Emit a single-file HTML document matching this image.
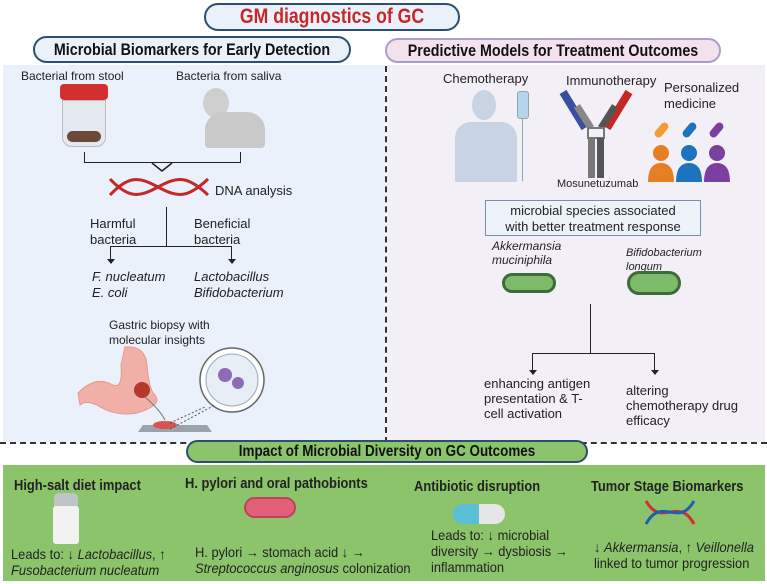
<!DOCTYPE html>
<html><head><meta charset="utf-8"><style>
*{margin:0;padding:0;box-sizing:border-box}
body{width:767px;height:584px;background:#fff;position:relative;overflow:hidden;font-family:"Liberation Sans",sans-serif;color:#222}
.a{position:absolute;white-space:nowrap}
.pill{position:absolute;border:2px solid #2d4e6e;border-radius:16px;font-weight:bold;color:#111;white-space:nowrap}
.pill span{position:absolute;left:50%;top:50%;transform:translate(-50%,-50%) scaleX(.84)}
.t{font-size:12px;line-height:15px}
.h{font-size:15px;font-weight:bold;transform:scaleX(.86);transform-origin:left}
.b{font-size:14px;line-height:16px;transform:scaleX(.92);transform-origin:left}
i{font-style:italic}
</style></head><body>
<div class="a" style="left:3px;top:65px;width:382px;height:377px;background:#eaf1fb"></div>
<div class="a" style="left:387px;top:65px;width:378px;height:377px;background:#f3eff6"></div>
<div class="a" style="left:385px;top:66px;height:377px;border-left:2px dashed #333"></div>
<div class="a" style="left:0;top:442px;width:767px;border-top:2px dashed #333"></div>
<div class="a" style="left:3px;top:465px;width:762px;height:116px;background:#8cc46c"></div>

<div class="pill" style="left:204px;top:3px;width:256px;height:28px;background:#eaf1fb;color:#c62828;font-size:21px"><span>GM diagnostics of GC</span></div>
<div class="pill" style="left:33px;top:36px;width:318px;height:27px;background:#eaf1fb;font-size:17px"><span>Microbial Biomarkers for Early Detection</span></div>
<div class="pill" style="left:385px;top:38px;width:336px;height:25px;background:#f3e2ee;border-color:#a9a0c8;font-size:17px"><span>Predictive Models for Treatment Outcomes</span></div>
<div class="pill" style="left:186px;top:440px;width:402px;height:23px;background:#8cc46c;font-size:16px"><span>Impact of Microbial Diversity on GC Outcomes</span></div>

<!-- left panel -->
<div class="a t" style="left:21px;top:69px">Bacterial from stool</div>
<div class="a t" style="left:176px;top:69px">Bacteria from saliva</div>
<div class="a" style="left:60px;top:84px;width:48px;height:16px;background:#d32f2f;border-radius:4px"></div>
<div class="a" style="left:62px;top:100px;width:44px;height:47px;background:#e4e9ef;border:1px solid #bbb;border-radius:0 0 10px 10px"></div>
<div class="a" style="left:67px;top:131px;width:34px;height:11px;background:#6b4a3a;border-radius:7px"></div>
<div class="a" style="left:203px;top:88px;width:26px;height:30px;background:#cfcfcf;border-radius:50%"></div>
<div class="a" style="left:205px;top:112px;width:60px;height:36px;background:#c9c9c9;border-radius:18px 18px 4px 4px"></div>
<div class="a" style="left:84px;top:152px;width:157px;height:11px;border:1.5px solid #222;border-top:none"></div>
<svg class="a" style="left:150px;top:162px" width="24" height="10"><path d="M2 1 L12 9 L22 1" stroke="#222" stroke-width="1.5" fill="#eaf1fb"/></svg>
<svg class="a" style="left:108px;top:176px" width="102" height="22"><path d="M2 3 C20 22,30 22,50 11 S80 0,100 19" stroke="#c62828" stroke-width="3" fill="none"/><path d="M2 19 C20 0,30 0,50 11 S80 22,100 3" stroke="#c62828" stroke-width="3" fill="none"/></svg>
<div class="a t" style="left:215px;top:183px;font-size:13px">DNA analysis</div>
<div class="a" style="left:166px;top:207px;height:40px;border-left:1.5px solid #222"></div>
<div class="a" style="left:110px;top:246px;width:122px;height:14px;border:1.5px solid #222;border-bottom:none"></div>
<div class="a" style="left:107px;top:259px;border:4px solid transparent;border-top:5px solid #222"></div>
<div class="a" style="left:228px;top:259px;border:4px solid transparent;border-top:5px solid #222"></div>
<div class="a t" style="left:90px;top:216px;line-height:16px;font-size:13px">Harmful<br>bacteria</div>
<div class="a t" style="left:194px;top:216px;line-height:16px;font-size:13px">Beneficial<br>bacteria</div>
<div class="a t" style="left:92px;top:269px;line-height:16px;font-size:13px"><i>F. nucleatum<br>E. coli</i></div>
<div class="a t" style="left:194px;top:269px;line-height:16px;font-size:13px"><i>Lactobacillus<br>Bifidobacterium</i></div>
<div class="a t" style="left:109px;top:318px;line-height:15px">Gastric biopsy with<br>molecular insights</div>
<svg class="a" style="left:75px;top:345px" width="200" height="92">
<path d="M50 2 Q70 0 72 20 Q74 45 80 50 Q88 60 62 68 Q40 72 22 60 Q10 55 5 60 L3 48 Q20 30 38 40 Q48 44 46 20 Z" fill="#f0b0a8" stroke="#e39a90"/>
<circle cx="67" cy="45" r="8" fill="#b3392a"/>
<path d="M70 52 Q85 65 90 75" stroke="#777" fill="none"/>
<circle cx="157" cy="35" r="32" fill="#fff" stroke="#666" stroke-width="1.5"/>
<circle cx="157" cy="35" r="26" fill="#e8eef6" stroke="#9ab"/>
<circle cx="150" cy="30" r="7" fill="#8e6bb8"/><circle cx="163" cy="38" r="6" fill="#8e6bb8"/>
<path d="M63 87 L137 87 L132 80 L68 80 Z" fill="#9aa3ad"/>
<ellipse cx="90" cy="80" rx="12" ry="4" fill="#d9534f"/>
<path d="M95 78 L130 62 M95 84 L140 60" stroke="#555" stroke-dasharray="2 2" fill="none"/>
</svg>

<!-- right panel -->
<div class="a t" style="left:443px;top:71px;font-size:13px">Chemotherapy</div>
<div class="a" style="left:472px;top:90px;width:24px;height:30px;background:#c8d3e3;border-radius:50%"></div>
<div class="a" style="left:455px;top:122px;width:62px;height:60px;background:#c8d3e3;border-radius:16px 16px 0 0"></div>
<div class="a" style="left:517px;top:91px;width:12px;height:28px;background:#b8d4ea;border:1px solid #8aa;border-radius:3px"></div>
<div class="a" style="left:522px;top:119px;height:62px;border-left:1px solid #8aa"></div>
<div class="a t" style="left:566px;top:73px;font-size:13px">Immunotherapy</div>
<svg class="a" style="left:555px;top:88px" width="82" height="92">
<path d="M8 4 L30 40" stroke="#3a4fa0" stroke-width="8"/><path d="M22 18 L36 40" stroke="#888" stroke-width="7"/>
<path d="M74 4 L52 40" stroke="#c62828" stroke-width="8"/><path d="M60 18 L46 40" stroke="#555" stroke-width="7"/>
<rect x="33" y="40" width="16" height="10" fill="none" stroke="#777" stroke-width="2"/>
<rect x="33" y="50" width="7" height="40" fill="#777"/><rect x="42" y="50" width="7" height="40" fill="#555"/>
</svg>
<div class="a t" style="left:557px;top:177px;font-size:11px">Mosunetuzumab</div>
<div class="a t" style="left:664px;top:80px;font-size:13px;line-height:16px">Personalized<br>medicine</div>
<div class="a" style="left:653px;top:126px;width:17px;height:8px;background:#f39c33;border-radius:4px;transform:rotate(-50deg)"></div>
<div class="a" style="left:681px;top:126px;width:17px;height:8px;background:#1e73be;border-radius:4px;transform:rotate(-50deg)"></div>
<div class="a" style="left:708px;top:126px;width:17px;height:8px;background:#7b3fa0;border-radius:4px;transform:rotate(-50deg)"></div>
<svg class="a" style="left:647px;top:144px" width="86" height="38">
<circle cx="14" cy="9" r="8" fill="#e67e22"/><path d="M1 38 Q1 19 14 19 Q27 19 27 38Z" fill="#e67e22"/>
<circle cx="42" cy="9" r="8" fill="#1e73be"/><path d="M29 38 Q29 19 42 19 Q55 19 55 38Z" fill="#1e73be"/>
<circle cx="70" cy="9" r="8" fill="#7b3fa0"/><path d="M57 38 Q57 19 70 19 Q83 19 83 38Z" fill="#7b3fa0"/>
</svg>
<div class="a" style="left:485px;top:200px;width:216px;height:36px;border:1.5px solid #7a8fb0;background:#eef3fa;text-align:center;font-size:13px;line-height:16px;padding-top:2px">microbial species associated<br>with better treatment response</div>
<div class="a t" style="left:492px;top:239px;line-height:14px;font-size:12px"><i>Akkermansia<br>muciniphila</i></div>
<div class="a t" style="left:626px;top:246px;line-height:14px;font-size:11px"><i>Bifidobacterium<br>longum</i></div>
<div class="a" style="left:502px;top:273px;width:54px;height:20px;background:#7dbb68;border:3px solid #3d6b3a;border-radius:10px"></div>
<div class="a" style="left:627px;top:271px;width:54px;height:24px;background:#7dbb68;border:3px solid #3d6b3a;border-radius:12px"></div>
<div class="a" style="left:590px;top:304px;height:50px;border-left:1.5px solid #222"></div>
<div class="a" style="left:532px;top:353px;width:123px;height:18px;border:1.5px solid #222;border-bottom:none"></div>
<div class="a" style="left:529px;top:370px;border:4px solid transparent;border-top:5px solid #222"></div>
<div class="a" style="left:651px;top:370px;border:4px solid transparent;border-top:5px solid #222"></div>
<div class="a t" style="left:484px;top:376px;font-size:13px">enhancing antigen<br>presentation &amp; T-<br>cell activation</div>
<div class="a t" style="left:626px;top:383px;font-size:13px">altering<br>chemotherapy drug<br>efficacy</div>

<!-- bottom -->
<div class="a h" style="left:14px;top:477px">High-salt diet impact</div>
<div class="a" style="left:54px;top:493px;width:24px;height:14px;background:#bfc4c9;border-radius:5px 5px 0 0"></div>
<div class="a" style="left:53px;top:506px;width:26px;height:38px;background:#f2f2f2;border-radius:3px"></div>
<div class="a b" style="left:11px;top:546px">Leads to: ↓ <i>Lactobacillus</i>, ↑<br><i>Fusobacterium nucleatum</i></div>
<div class="a h" style="left:185px;top:475px">H. pylori and oral pathobionts</div>
<div class="a" style="left:246px;top:499px;width:48px;height:17px;background:#e0607a;border-radius:9px;box-shadow:0 0 0 2px #c04060"></div>
<div class="a b" style="left:195px;top:544px">H. pylori → stomach acid ↓ →<br><i>Streptococcus anginosus</i> colonization</div>
<div class="a h" style="left:414px;top:478px">Antibiotic disruption</div>
<div class="a" style="left:453px;top:504px;width:26px;height:20px;background:#5bc0d6;border-radius:10px 0 0 10px"></div>
<div class="a" style="left:479px;top:504px;width:26px;height:20px;background:#e6e6e6;border-radius:0 10px 10px 0"></div>
<div class="a b" style="left:431px;top:527px">Leads to: ↓ microbial<br>diversity → dysbiosis →<br>inflammation</div>
<div class="a h" style="left:591px;top:478px">Tumor Stage Biomarkers</div>
<svg class="a" style="left:644px;top:499px" width="52" height="27"><path d="M2 2 C18 30,34 -4,50 25" stroke="#d32f2f" stroke-width="3" fill="none"/><path d="M2 25 C18 -4,34 30,50 2" stroke="#1e5fb0" stroke-width="3" fill="none"/></svg>
<div class="a b" style="left:594px;top:539px">↓ <i>Akkermansia</i>, ↑ <i>Veillonella</i><br>linked to tumor progression</div>
</body></html>
